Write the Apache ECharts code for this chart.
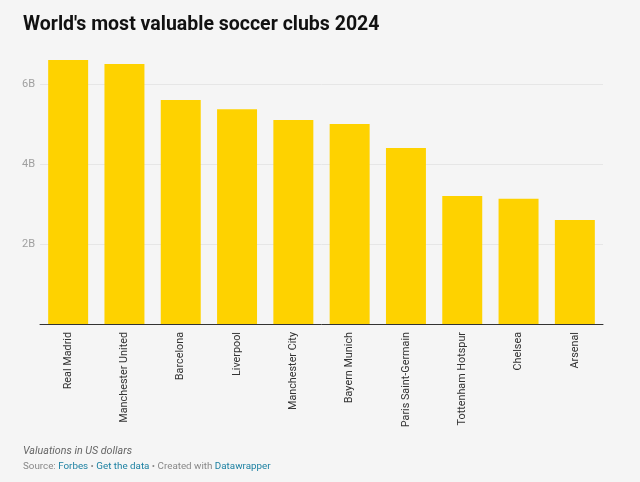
<!DOCTYPE html>
<html>
<head>
<meta charset="utf-8">
<script src="https://cdn.jsdelivr.net/npm/echarts@6/dist/echarts.min.js"></script>
<style>
html,body{margin:0;padding:0;background:#f5f5f5;}
#chart{width:640px;height:482px;}
</style>
</head>
<body>
<div id="chart"></div>
<script>
const categories = ["Real Madrid","Manchester United","Barcelona","Liverpool","Manchester City","Bayern Munich","Paris Saint-Germain","Tottenham Hotspur","Chelsea","Arsenal"];
const values = [6.6, 6.5, 5.6, 5.37, 5.1, 5.0, 4.4, 3.2, 3.13, 2.6];
const yTicks = [2, 4, 6];
const titleText = "World's most valuable soccer clubs 2024";
const noteText = "Valuations in US dollars";

const chart = echarts.init(document.getElementById('chart'), null, {renderer:'canvas'});
chart.setOption({
  backgroundColor: '#f5f5f5',
  animation: false,
  textStyle: {fontFamily: 'Roboto'},
  title: {
    text: titleText,
    left: 18, top: 10,
    textStyle: {fontFamily: 'Roboto', fontSize: 19.5, fontWeight: 'bold', color: '#111'}
  },
  grid: {left: 40, right: 37, top: 60, bottom: 158, containLabel: false},
  xAxis: {
    type: 'category',
    data: categories,
    axisLine: {show: true, lineStyle: {color: '#333', width: 1}},
    axisTick: {show: false},
    axisLabel: {rotate: 90, interval: 0, color: '#333', fontSize: 10.8, margin: 8, fontFamily: 'Roboto'}
  },
  yAxis: {
    type: 'value',
    min: 0, max: 6.6, interval: 2,
    axisLine: {show: false},
    axisTick: {show: false},
    axisLabel: {
      color: '#a0a0a0', fontSize: 11, margin: 5, showMaxLabel: false, showMinLabel: false,
      formatter: v => yTicks.indexOf(v) >= 0 ? v + 'B' : ''
    },
    splitLine: {show: true, showMaxLine: false, showMinLine: false, lineStyle: {color: '#e6e6e6', width: 1}}
  },
  series: [{
    type: 'bar',
    data: values,
    barCategoryGap: '29%',
    itemStyle: {color: '#fed200'}
  }],
  graphic: [
    {type: 'text', left: 23, top: 446, style: {text: noteText, fontFamily: 'Roboto', fontStyle: 'italic', fontSize: 10.7, fill: '#666'}},
    {type: 'text', left: 23, top: 462, style: {
      text: '{g|Source: }{b|Forbes}{g| • }{b|Get the data}{g| • Created with }{b|Datawrapper}',
      rich: {
        g: {fontFamily: 'Roboto', fontSize: 9.8, fill: '#888', color: '#888'},
        b: {fontFamily: 'Roboto', fontSize: 9.8, fill: '#1d81a2', color: '#1d81a2'}
      }
    }}
  ]
});
</script>
</body>
</html>
